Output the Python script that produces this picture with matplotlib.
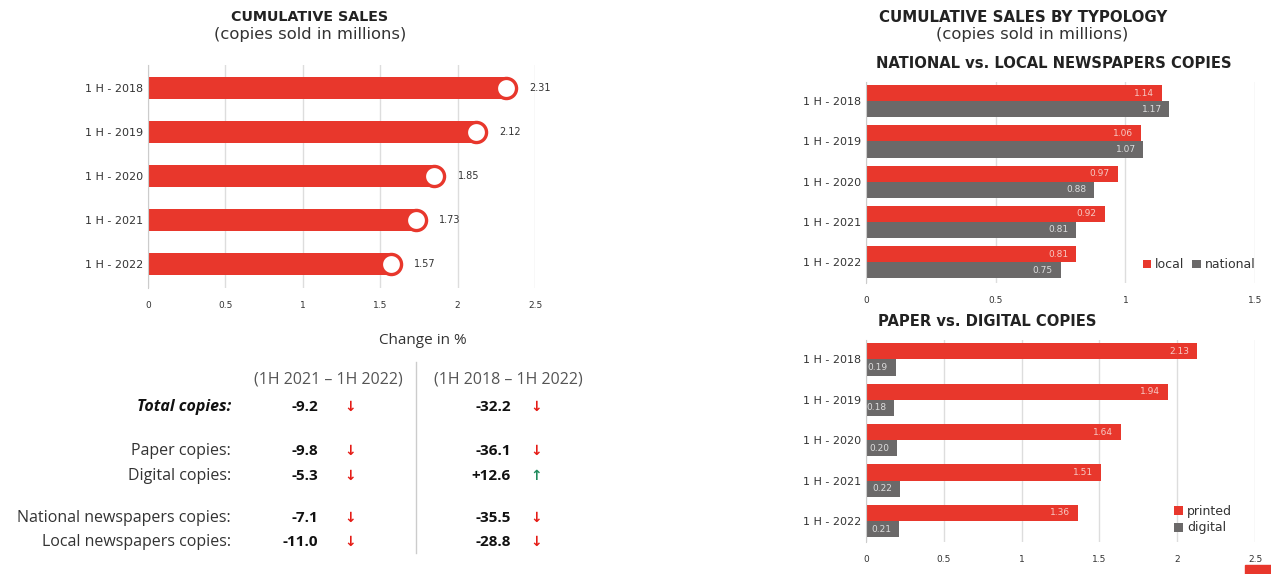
import matplotlib
matplotlib.use("Agg")
import matplotlib.pyplot as plt
from matplotlib.patches import Rectangle

periods = ["1 H - 2018", "1 H - 2019", "1 H - 2020", "1 H - 2021", "1 H - 2022"]
total = [2.31, 2.12, 1.85, 1.73, 1.57]
local = [1.14, 1.06, 0.97, 0.92, 0.81]
national = [1.17, 1.07, 0.88, 0.81, 0.75]
printed = [2.13, 1.94, 1.64, 1.51, 1.36]
digital = [0.19, 0.18, 0.20, 0.22, 0.21]

row_labels = ["Total copies:", "Paper copies:", "Digital copies:",
              "National newspapers copies:", "Local newspapers copies:"]
change_1y = ["-9.2", "-9.8", "-5.3", "-7.1", "-11.0"]
change_4y = ["-32.2", "-36.1", "+12.6", "-35.5", "-28.8"]
col_headers = ["(1H 2021 \u2013 1H 2022)", "(1H 2018 \u2013 1H 2022)"]

RED = "#e8372c"
GRAY = "#6b6969"
TXT = "#333333"
W, H = 1271, 574


def fx(px):
    return px / W


def fy(py):
    return 1 - py / H


plt.rcParams["font.family"] = ["DejaVu Sans"]
fig = plt.figure(figsize=(12.71, 5.74), dpi=100)


def style_axis(ax, xmax, step):
    ax.set_xlim(0, xmax)
    ax.set_xticks([i * step for i in range(int(round(xmax / step)) + 1)])
    ax.set_xticklabels([("%g" % t) for t in ax.get_xticks()])
    ax.grid(axis="x", color="#dddddd", linewidth=1)
    ax.set_axisbelow(True)
    for s in ["top", "right", "bottom"]:
        ax.spines[s].set_visible(False)
    ax.spines["left"].set_color("#cccccc")
    ax.tick_params(axis="both", length=0, labelsize=8, colors=TXT)
    ax.tick_params(axis="x", pad=9, labelsize=6.5)
    ax.set_yticks(range(len(periods)))
    ax.set_yticklabels(periods)


# ---- left: cumulative sales ----
ax1 = fig.add_axes([fx(148), fy(288), fx(535) - fx(148), fy(65) - fy(288)])
ypos = list(range(len(periods)))
ax1.barh(ypos, total, height=0.5, color=RED)
ax1.plot(total, ypos, "o", ms=14.5, mfc="white", mec=RED, mew=2.4, zorder=3)
for y, v in zip(ypos, total):
    ax1.text(v + 0.15, y, "%.2f" % v, va="center", ha="left", fontsize=7, color=TXT)
style_axis(ax1, 2.5, 0.5)
ax1.set_ylim(4.55, -0.52)

fig.text(fx(310), fy(17), "CUMULATIVE SALES", ha="center", va="center",
         fontsize=10.3, fontweight="bold", color="#222222")
fig.text(fx(310), fy(35), "(copies sold in millions)", ha="center", va="center",
         fontsize=11.8, color=TXT)

# ---- left bottom: change table ----
tfont = ["Open Sans", "DejaVu Sans"]
fig.text(fx(423), fy(340), "Change in %", ha="center", va="center",
         fontsize=11, color=TXT, family=tfont)
fig.text(fx(328), fy(380), col_headers[0], ha="center", va="center",
         fontsize=11.5, color="#555555", family=tfont)
fig.text(fx(508), fy(380), col_headers[1], ha="center", va="center",
         fontsize=11.5, color="#555555", family=tfont)
fig.add_artist(plt.Line2D([fx(416), fx(416)], [fy(362), fy(553)],
                          color="#cccccc", linewidth=1))
row_y = [407, 451, 476, 518, 542]
for i, (lab, a, b) in enumerate(zip(row_labels, change_1y, change_4y)):
    yy = fy(row_y[i])
    if i == 0:
        fig.text(fx(231), yy, lab, ha="right", va="center", fontsize=11.5,
                 fontweight="bold", fontstyle="italic", color="#111111", family=tfont)
    else:
        fig.text(fx(231), yy, lab, ha="right", va="center", fontsize=11.5,
                 color=TXT, family=tfont)
    for val, xv, xa in [(a, 318, 350), (b, 511, 536)]:
        fig.text(fx(xv), yy, val, ha="right", va="center", fontsize=11,
                 fontweight="bold", color="#111111", family=tfont)
        up = val.startswith("+")
        fig.text(fx(xa), yy, "\u2191" if up else "\u2193", ha="center", va="center",
                 fontsize=10, fontweight="bold",
                 color="#1f8a5c" if up else "#e51c16", family=["DejaVu Sans"])

# ---- right titles ----
fig.text(fx(1023), fy(17), "CUMULATIVE SALES BY TYPOLOGY", ha="center", va="center",
         fontsize=10.8, fontweight="bold", color="#222222")
fig.text(fx(1032), fy(35), "(copies sold in millions)", ha="center", va="center",
         fontsize=11.8, color=TXT)
fig.text(fx(1054), fy(64), "NATIONAL vs. LOCAL NEWSPAPERS COPIES", ha="center",
         va="center", fontsize=10.6, fontweight="bold", color="#222222")
fig.text(fx(987), fy(322), "PAPER vs. DIGITAL COPIES", ha="center",
         va="center", fontsize=10.6, fontweight="bold", color="#222222")


def pair_chart(ax, a, b, la, lb, xmax, ncol):
    yy = list(range(len(periods)))
    ax.barh([y - 0.2 for y in yy], a, height=0.4, color=RED, label=la)
    ax.barh([y + 0.2 for y in yy], b, height=0.4, color=GRAY, label=lb)
    for y, v in zip(yy, a):
        ax.text(v - 0.02 * xmax, y - 0.2, "%.2f" % v, ha="right", va="center",
                fontsize=6.5, color="#f6c9c4")
    for y, v in zip(yy, b):
        ax.text(v - 0.02 * xmax, y + 0.2, "%.2f" % v, ha="right", va="center",
                fontsize=6.5, color="#dddddd")
    style_axis(ax, xmax, 0.5)
    ax.set_ylim(4.52, -0.48)
    ax.legend(loc="lower right", ncol=ncol, frameon=False, fontsize=9,
              handlelength=0.7, handleheight=0.7, handletextpad=0.3,
              columnspacing=0.6, labelspacing=0.3, borderaxespad=0.2,
              labelcolor=TXT, bbox_to_anchor=(1.02, 0.02))


ax2 = fig.add_axes([fx(866), fy(283), fx(1255) - fx(866), fy(82) - fy(283)])
pair_chart(ax2, local, national, "local", "national", 1.5, 2)

ax3 = fig.add_axes([fx(866), fy(542), fx(1255) - fx(866), fy(340) - fy(542)])
pair_chart(ax3, printed, digital, "printed", "digital", 2.5, 1)
ax3.get_legend().set_bbox_to_anchor((0.96, 0.0))

fig.add_artist(Rectangle((fx(1245), 0), fx(26), 9 / H, color=RED,
                         transform=fig.transFigure))

fig.savefig("out.png", dpi=100, facecolor="white")
